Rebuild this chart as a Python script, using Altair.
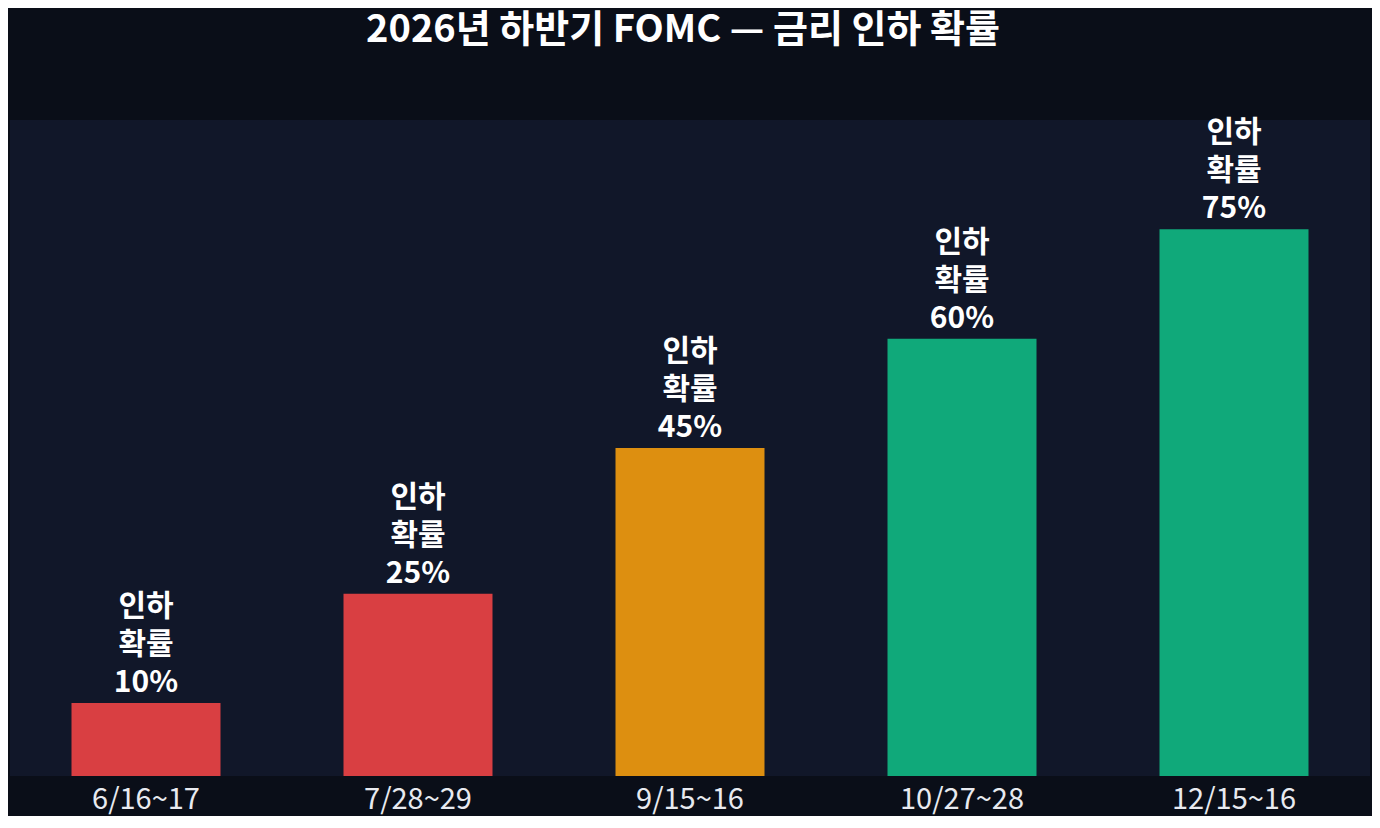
import altair as alt
import pandas as pd

dates = ["6/16~17", "7/28~29", "9/15~16", "10/27~28", "12/15~16"]
probs = [10, 25, 45, 60, 75]
colors = ["#d93f42", "#d93f42", "#dd8f10", "#10a97a", "#10a97a"]
label_prefix = "인하\n확률\n"

df = pd.DataFrame({
    "date": dates,
    "prob": probs,
    "color": colors,
    "label": [f"{label_prefix}{p}%" for p in probs],
})

FONT = "Noto Sans CJK KR"

base = alt.Chart(df).encode(
    x=alt.X("date:N", sort=dates, title=None,
            scale=alt.Scale(paddingInner=0.45, paddingOuter=0.225),
            axis=alt.Axis(labelAngle=0, labelFontSize=29, labelColor="#e8eaf0",
                          labelFont=FONT, labelPadding=9, domain=False,
                          ticks=False, grid=False)),
    y=alt.Y("prob:Q", title=None, scale=alt.Scale(domain=[0, 90], nice=False),
            axis=None),
)

bars = base.mark_bar(size=149).encode(color=alt.Color("color:N", scale=None))

text = base.mark_text(baseline="bottom", dy=-81, fontSize=30, fontWeight="bold",
                      font=FONT, color="#ffffff", lineBreak="\n",
                      lineHeight=38).encode(text="label:N")

chart = (bars + text).properties(
    width=1360, height=656,
    background="#0a0e18",
    padding={"left": 2, "right": 2, "top": 4, "bottom": 2},
    title=alt.Title("2026년 하반기 FOMC — 금리 인하 확률", fontSize=38,
                    fontWeight="bold", font=FONT, color="#ffffff",
                    anchor="middle", offset=68, dx=-7),
).configure_view(fill="#111729", stroke=None)

chart.save("out.html", embed_options={"renderer": "svg", "actions": False})
